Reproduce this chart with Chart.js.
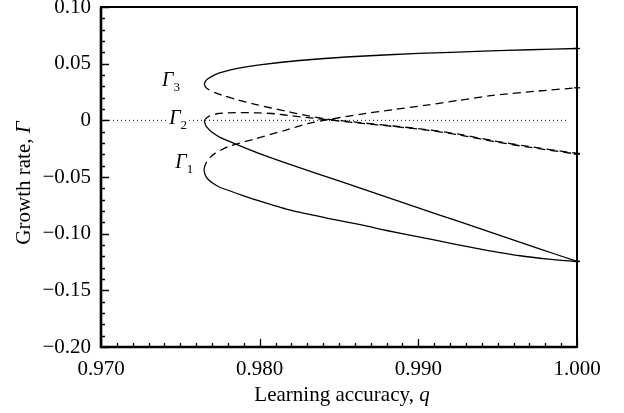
<!DOCTYPE html>
<html lang="en">
<head>
<meta charset="UTF-8">
<title>Growth rate vs learning accuracy</title>
<script src="https://cdn.jsdelivr.net/npm/chart.js"></script>
<style>
  html, body { margin: 0; padding: 0; background: #fff; }
  #caixa { width: 624px; height: 413px; }
</style>
</head>
<body>
<div id="caixa"><canvas id="grafico"></canvas></div>
<script>
// tick labels
const xTicks = [0.970, 0.980, 0.990, 1.000];
const yTicks = [-0.20, -0.15, -0.10, -0.05, 0, 0.05, 0.10];

// Γ3: upper (solid) and lower (dashed) branch, both start at the fold
const g3SolidQ = [0.97651, 0.97660, 0.97676, 0.97720, 0.97770, 0.97860, 0.98000, 0.98250, 0.98570, 0.99000, 0.99410, 0.99700, 1.00000];
const g3SolidG = [0.0318, 0.0348, 0.0369, 0.0404, 0.0428, 0.0458, 0.0490, 0.0528, 0.0561, 0.0590, 0.0610, 0.0623, 0.0634];
const g3DashQ = [0.97651, 0.97660, 0.97680, 0.97718, 0.97780, 0.97845, 0.97971, 0.98160, 0.98275, 0.98422, 0.98632, 0.98842, 0.99053, 0.99262, 0.99472, 0.99683, 1.00000];
const g3DashG = [0.0318, 0.0291, 0.0270, 0.0245, 0.0214, 0.0186, 0.0141, 0.0082, 0.0048, 0.0012, -0.0020, -0.0050, -0.0082, -0.0124, -0.0180, -0.0228, -0.0292];

// Γ2: lower (solid) and upper (dashed)
const g2SolidQ = [0.97651, 0.97660, 0.97677, 0.97698, 0.97750, 0.97865, 0.98012, 0.98223, 0.98500, 0.98750, 0.99000, 0.99250, 0.99500, 0.99750, 1.00000];
const g2SolidG = [-0.0005, -0.0045, -0.0075, -0.0103, -0.0150, -0.0218, -0.0300, -0.0404, -0.0535, -0.0653, -0.0772, -0.0890, -0.1009, -0.1127, -0.1245];
const g2DashQ = [0.97651, 0.97660, 0.97680, 0.97700, 0.97729, 0.97800, 0.97908, 0.98000, 0.98097, 0.98202, 0.98320, 0.98422, 0.98632, 0.98842, 0.99053, 0.99262, 0.99472, 0.99683, 1.00000];
const g2DashG = [-0.0005, 0.0015, 0.0035, 0.0047, 0.0058, 0.0066, 0.0068, 0.0065, 0.0058, 0.0040, 0.0022, 0.0006, -0.0025, -0.0054, -0.0086, -0.0129, -0.0186, -0.0234, -0.0298];

// Γ1: lower (solid) and upper (dashed)
const g1SolidQ = [0.97649, 0.97656, 0.97676, 0.97720, 0.97760, 0.97908, 0.98002, 0.98200, 0.98422, 0.98650, 0.98800, 0.99010, 0.99220, 0.99400, 0.99641, 0.99820, 1.00000];
const g1SolidG = [-0.0433, -0.0480, -0.0522, -0.0569, -0.0597, -0.0670, -0.0713, -0.0795, -0.0862, -0.0925, -0.0972, -0.1030, -0.1090, -0.1138, -0.1195, -0.1224, -0.1245];
const g1DashQ = [0.97649, 0.97655, 0.97666, 0.97690, 0.97718, 0.97802, 0.97960, 0.98160, 0.98317, 0.98443, 0.98632, 0.98842, 0.99053, 0.99250, 0.99472, 0.99750, 1.00000];
const g1DashG = [-0.0433, -0.0400, -0.0366, -0.0325, -0.0292, -0.0232, -0.0168, -0.0088, -0.0025, 0.0009, 0.0053, 0.0094, 0.0135, 0.0175, 0.0221, 0.0258, 0.0287];

// zero line
const zeroQ = [0.970, 0.9994];
const zeroG = [0, 0];

// branch names, anchored in data units
const rotulos = [
  { sub: '3', q: 0.97385, g: 0.0303, fundo: false },
  { sub: '2', q: 0.97430, g: -0.0035, fundo: true },
  { sub: '1', q: 0.97468, g: -0.0418, fundo: false }
];

const serif = "'Liberation Serif', 'Times New Roman', serif";

function pontos(qs, gs) {
  return qs.map((q, i) => ({ x: q, y: gs[i] }));
}

function ramo(qs, gs, tracejado) {
  return {
    data: pontos(qs, gs),
    showLine: true,
    borderColor: '#000',
    borderWidth: 1.3,
    borderDash: tracejado ? [8, 5] : [],
    tension: 0.25,
    clip: false,
    pointStyle: 'line',
    pointBorderColor: '#000',
    pointBorderWidth: 1.3,
    pointRadius: ctx => ctx.dataIndex === ctx.dataset.data.length - 1 ? 3 : 0,
    pointHoverRadius: 0
  };
}

const datasets = [
  ramo(g3SolidQ, g3SolidG, false),
  ramo(g3DashQ, g3DashG, true),
  ramo(g2SolidQ, g2SolidG, false),
  ramo(g2DashQ, g2DashG, true),
  ramo(g1SolidQ, g1SolidG, false),
  ramo(g1DashQ, g1DashG, true),
  {
    data: pontos(zeroQ, zeroG),
    showLine: true,
    borderColor: '#000',
    borderWidth: 1,
    borderDash: [1, 3],
    pointRadius: 0,
    tension: 0
  }
];

// frame, inward ticks, axis titles and branch names
const moldura = {
  id: 'moldura',
  afterDatasetsDraw(chart) {
    const { ctx, chartArea: a, scales: { x, y } } = chart;
    ctx.save();
    ctx.strokeStyle = '#000';
    ctx.fillStyle = '#000';

    // ticks on the x axis: every 0.001, long ones every 0.010
    ctx.lineWidth = 1.3;
    ctx.beginPath();
    for (let i = 0; i <= 30; i++) {
      const px = Math.round(x.getPixelForValue(0.970 + i * 0.001)) + 0.5;
      const len = i % 10 === 0 ? 8 : 4;
      ctx.moveTo(px, a.bottom);
      ctx.lineTo(px, a.bottom - len);
    }
    // ticks on the y axis: every 0.01, long ones every 0.05
    for (let i = 0; i <= 30; i++) {
      const py = Math.round(y.getPixelForValue(-0.20 + i * 0.01)) + 0.5;
      const len = i % 5 === 0 ? 8 : 4;
      ctx.moveTo(a.left, py);
      ctx.lineTo(a.left + len, py);
    }
    ctx.stroke();

    // frame
    ctx.lineWidth = 2;
    ctx.strokeRect(a.left, a.top, a.right - a.left, a.bottom - a.top);
    ctx.lineWidth = 2.6;
    ctx.beginPath();
    ctx.moveTo(a.left, a.top);
    ctx.lineTo(a.left, a.bottom);
    ctx.lineTo(a.right, a.bottom);
    ctx.stroke();

    // branch names Γ1, Γ2, Γ3
    ctx.textBaseline = 'alphabetic';
    ctx.textAlign = 'left';
    rotulos.forEach(r => {
      const px = x.getPixelForValue(r.q);
      const py = y.getPixelForValue(r.g);
      ctx.font = 'italic 20px ' + serif;
      const w = ctx.measureText('\u0393').width;
      ctx.font = '13px ' + serif;
      const ws = ctx.measureText(r.sub).width;
      if (r.fundo) {
        ctx.fillStyle = '#fff';
        ctx.fillRect(px - 1, py - 15, w + ws + 3, 22);
        ctx.fillStyle = '#000';
      }
      ctx.font = 'italic 20px ' + serif;
      ctx.fillText('\u0393', px, py);
      ctx.font = '13px ' + serif;
      ctx.fillText(r.sub, px + w, py + 5);
    });

    // x axis title
    ctx.font = '21px ' + serif;
    const t1 = 'Learning accuracy, ';
    const w1 = ctx.measureText(t1).width;
    ctx.font = 'italic 21px ' + serif;
    const w2 = ctx.measureText('q').width;
    let sx = 342 - (w1 + w2) / 2;
    ctx.font = '21px ' + serif;
    ctx.fillText(t1, sx, 401);
    ctx.font = 'italic 21px ' + serif;
    ctx.fillText('q', sx + w1, 401);

    // y axis title, rotated
    ctx.translate(30, 183);
    ctx.rotate(-Math.PI / 2);
    ctx.font = '21px ' + serif;
    const t3 = 'Growth rate, ';
    const w3 = ctx.measureText(t3).width;
    ctx.font = 'italic 21px ' + serif;
    const w4 = ctx.measureText('\u0393').width;
    sx = -(w3 + w4) / 2;
    ctx.font = '21px ' + serif;
    ctx.fillText(t3, sx, 0);
    ctx.font = 'italic 21px ' + serif;
    ctx.fillText('\u0393', sx + w3, 0);

    ctx.restore();
  }
};

new Chart(document.getElementById('grafico'), {
  type: 'scatter',
  data: { datasets },
  options: {
    responsive: true,
    maintainAspectRatio: false,
    animation: false,
    events: [],
    layout: { padding: { top: 7, right: 47, left: 0, bottom: 0 } },
    plugins: { legend: { display: false }, tooltip: { enabled: false } },
    scales: {
      x: {
        type: 'linear',
        min: 0.970,
        max: 1.000,
        grid: { display: false, drawTicks: false },
        border: { display: false },
        afterBuildTicks: s => { s.ticks = xTicks.map(v => ({ value: v })); },
        afterFit: s => { s.height = 66; s.paddingLeft = 0; s.paddingRight = 0; },
        ticks: {
          padding: 10,
          color: '#000',
          maxRotation: 0,
          autoSkip: false,
          font: { family: serif, size: 21 },
          callback: v => v.toFixed(3)
        }
      },
      y: {
        type: 'linear',
        min: -0.20,
        max: 0.10,
        grid: { display: false, drawTicks: false },
        border: { display: false },
        afterBuildTicks: s => { s.ticks = yTicks.map(v => ({ value: v })); },
        afterFit: s => { s.width = 101; s.paddingTop = 0; s.paddingBottom = 0; },
        ticks: {
          padding: 10,
          color: '#000',
          autoSkip: false,
          font: { family: serif, size: 21 },
          callback: v => v === 0 ? '0' : (v < 0 ? '\u2212' : '') + Math.abs(v).toFixed(2)
        }
      }
    }
  },
  plugins: [moldura]
});
</script>
</body>
</html>
